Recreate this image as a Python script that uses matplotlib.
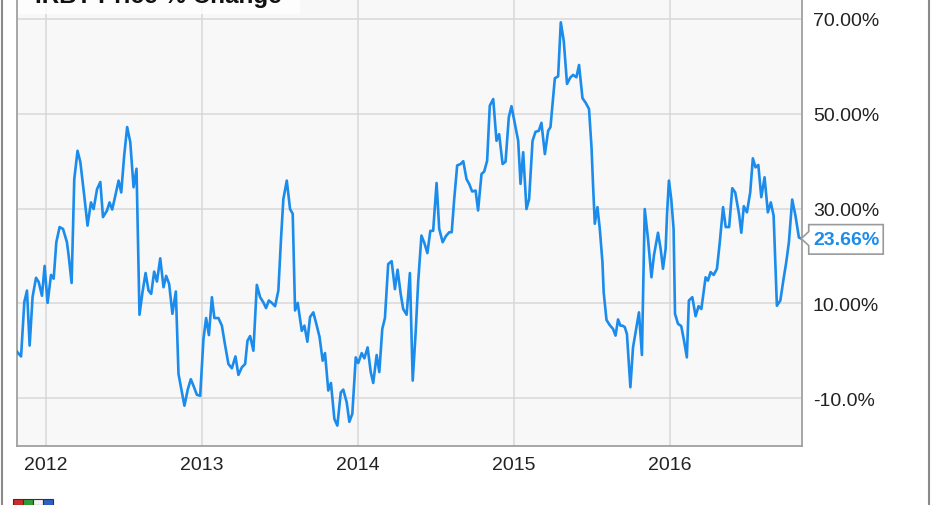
import matplotlib
matplotlib.use("Agg")
import matplotlib.pyplot as plt
from matplotlib.patches import Polygon, Rectangle
from matplotlib.lines import Line2D
from matplotlib.transforms import Affine2D

# --------------------------
# Data: IRBT price % change (x in decimal years)
# --------------------------
dates = [
    2011.814, 2011.840, 2011.861, 2011.878, 2011.895, 2011.914, 2011.936, 2011.953, 2011.974, 2011.991,
    2012.010, 2012.032, 2012.049, 2012.066, 2012.087, 2012.109, 2012.134, 2012.145, 2012.164, 2012.181,
    2012.202, 2012.220, 2012.245, 2012.266, 2012.288, 2012.305, 2012.327, 2012.348, 2012.365, 2012.391,
    2012.407, 2012.424, 2012.444, 2012.465, 2012.482, 2012.501, 2012.520, 2012.540, 2012.561, 2012.580,
    2012.599, 2012.618, 2012.638, 2012.657, 2012.674, 2012.693, 2012.711, 2012.732, 2012.753, 2012.770,
    2012.789, 2012.810, 2012.832, 2012.849, 2012.871, 2012.887, 2012.909, 2012.928, 2012.945, 2012.967,
    2012.988, 2013.009, 2013.026, 2013.044, 2013.063, 2013.079, 2013.105, 2013.127, 2013.148, 2013.169,
    2013.191, 2013.214, 2013.233, 2013.255, 2013.276, 2013.291, 2013.308, 2013.329, 2013.351, 2013.372,
    2013.393, 2013.410, 2013.428, 2013.447, 2013.468, 2013.489, 2013.506, 2013.521, 2013.543, 2013.564,
    2013.581, 2013.596, 2013.613, 2013.639, 2013.656, 2013.675, 2013.692, 2013.713, 2013.732, 2013.753,
    2013.773, 2013.788, 2013.809, 2013.826, 2013.848, 2013.867, 2013.889, 2013.905, 2013.927, 2013.944,
    2013.963, 2013.985, 2014.001, 2014.023, 2014.040, 2014.061, 2014.081, 2014.097, 2014.119, 2014.136,
    2014.155, 2014.172, 2014.193, 2014.215, 2014.236, 2014.253, 2014.273, 2014.289, 2014.311, 2014.332,
    2014.350, 2014.369, 2014.385, 2014.406, 2014.425, 2014.444, 2014.463, 2014.481, 2014.503, 2014.520,
    2014.542, 2014.563, 2014.584, 2014.600, 2014.616, 2014.635, 2014.657, 2014.674, 2014.695, 2014.712,
    2014.731, 2014.753, 2014.769, 2014.791, 2014.808, 2014.827, 2014.844, 2014.866, 2014.887, 2014.904,
    2014.926, 2014.945, 2014.966, 2014.983, 2015.005, 2015.026, 2015.041, 2015.058, 2015.079, 2015.096,
    2015.118, 2015.137, 2015.158, 2015.175, 2015.197, 2015.218, 2015.233, 2015.261, 2015.282, 2015.299,
    2015.318, 2015.339, 2015.361, 2015.378, 2015.399, 2015.416, 2015.438, 2015.459, 2015.480, 2015.496,
    2015.506, 2015.517, 2015.534, 2015.549, 2015.566, 2015.574, 2015.592, 2015.613, 2015.634, 2015.650,
    2015.666, 2015.681, 2015.694, 2015.709, 2015.723, 2015.745, 2015.762, 2015.784, 2015.800, 2015.819,
    2015.837, 2015.858, 2015.880, 2015.896, 2015.922, 2015.939, 2015.954, 2015.971, 2015.980, 2015.992,
    2016.007, 2016.022, 2016.031, 2016.050, 2016.071, 2016.089, 2016.107, 2016.120, 2016.142, 2016.163,
    2016.182, 2016.200, 2016.227, 2016.242, 2016.259, 2016.279, 2016.300, 2016.318, 2016.339, 2016.356,
    2016.378, 2016.398, 2016.417, 2016.441, 2016.456, 2016.472, 2016.492, 2016.513, 2016.530, 2016.547,
    2016.565, 2016.584, 2016.605, 2016.626, 2016.645, 2016.663, 2016.684, 2016.706, 2016.727, 2016.744,
    2016.761, 2016.782, 2016.803, 2016.825, 2016.840,
]
pct_change = [
    -0.2, -1.2, 10.3, 12.7, 1.1, 11.4, 15.4, 14.5, 11.6, 17.9,
    10.1, 16.0, 15.2, 22.9, 26.1, 25.7, 22.9, 20.1, 14.3, 36.2,
    42.2, 39.8, 32.7, 26.4, 31.3, 29.9, 34.1, 35.6, 28.2, 29.6,
    31.3, 29.8, 32.7, 35.9, 33.4, 41.2, 47.2, 44.0, 34.5, 38.4,
    7.6, 12.3, 16.4, 12.7, 12.0, 16.7, 14.6, 19.5, 13.4, 15.8,
    14.1, 7.8, 12.5, -4.9, -8.8, -11.6, -8.1, -6.0, -7.4, -9.3,
    -9.5, 2.5, 6.9, 3.3, 11.3, 6.9, 6.9, 5.3, 1.1, -2.8,
    -3.7, -1.2, -5.1, -3.5, -2.8, 2.1, 3.1, 0.0, 13.9, 11.3,
    10.2, 9.0, 10.6, 10.1, 9.4, 12.7, 23.6, 32.0, 35.9, 29.9,
    28.9, 8.5, 10.1, 4.2, 5.3, 1.9, 7.1, 8.1, 5.7, 2.9,
    -2.1, -0.5, -8.4, -6.8, -14.4, -15.8, -8.8, -8.2, -10.9, -15.0,
    -13.3, -1.4, -2.6, -0.5, -1.6, 0.7, -4.5, -6.8, -0.9, -4.5,
    4.6, 6.9, 18.3, 18.9, 13.0, 17.1, 12.0, 8.8, 7.6, 16.4,
    -6.3, 3.9, 14.5, 24.3, 22.7, 20.6, 25.3, 25.3, 35.4, 25.7,
    22.9, 24.2, 25.0, 25.0, 32.0, 39.1, 39.4, 40.0, 36.2, 35.2,
    33.6, 33.8, 29.6, 37.3, 37.8, 40.1, 51.7, 53.1, 44.3, 45.7,
    39.4, 39.9, 49.3, 51.6, 47.9, 44.3, 35.2, 41.9, 29.9, 32.0,
    44.3, 46.2, 46.4, 48.1, 41.5, 46.4, 47.2, 57.5, 57.9, 69.3,
    65.4, 56.3, 57.7, 58.2, 57.7, 60.3, 53.3, 52.3, 51.0, 42.9,
    34.8, 26.8, 30.3, 25.7, 18.7, 12.3, 6.5, 5.4, 4.6, 3.2,
    6.6, 5.3, 5.3, 5.0, 3.5, -7.7, 0.7, 5.0, 8.1, -0.9,
    29.9, 23.6, 15.5, 20.1, 24.9, 21.5, 17.3, 21.5, 28.9, 35.9,
    32.0, 25.7, 7.8, 5.7, 5.2, 2.1, -1.4, 10.6, 11.3, 7.3,
    9.4, 8.8, 15.5, 14.8, 16.6, 16.0, 17.3, 22.9, 30.3, 26.1,
    26.1, 34.3, 33.4, 28.9, 24.9, 30.5, 29.2, 33.4, 40.6, 38.7,
    39.2, 32.4, 36.6, 29.2, 31.3, 28.5, 9.5, 10.6, 15.2, 18.7,
    22.9, 31.9, 28.5, 23.9, 23.66,
]

year_ticks = [2012, 2013, 2014, 2015, 2016]
year_labels = ["2012", "2013", "2014", "2015", "2016"]
y_ticks = [70, 50, 30, 10, -10]
y_labels = ["70.00%", "50.00%", "30.00%", "10.00%", "-10.0%"]
title = "IRBT Price % Change"

line_color = "#1b8ceb"
W, H = 931, 506

plt.rcParams["font.family"] = ["Liberation Sans", "DejaVu Sans"]

fig = plt.figure(figsize=(W / 100, H / 100), dpi=100)
fig.patch.set_facecolor("white")
ax = fig.add_axes([17 / W, 59 / H, (801.7 - 17) / W, 447 / H])
ax.set_facecolor("#f8f8f8")

ax.plot(dates, pct_change, color=line_color, lw=1.9, zorder=3, solid_joinstyle="round")

ax.set_xlim(2011.814, 2016.843)
ax.set_ylim(-20.1, 74.22)

ax.set_xticks(year_ticks)
ax.set_xticklabels(year_labels, fontsize=14, color="#222222")
ax.set_yticks(y_ticks)
ax.set_yticklabels(y_labels, fontsize=14, color="#222222")
ax.yaxis.tick_right()
ax.tick_params(axis="both", length=0)
ax.tick_params(axis="y", pad=8)
ax.tick_params(axis="x", pad=7)
ax.grid(True, color="#dadada", lw=1.2, zorder=0)
ax.set_axisbelow(True)

for side in ["left", "right", "bottom"]:
    ax.spines[side].set_color("#a0a0a0")
    ax.spines[side].set_linewidth(1.3)
ax.spines["top"].set_visible(False)

# title box (cropped at top of image, as in the source)
ax.add_patch(Rectangle((0, 1 - 15 / 447), 283 / 784.7, 15 / 447, transform=ax.transAxes,
                       facecolor="white", edgecolor="none", alpha=0.8, zorder=2))
fig.text(35 / W, 1 - 3 / H, title, fontsize=17.5, fontweight="bold", color="#111111",
         ha="left", va="baseline")

# last value callout
fig.canvas.draw()
px, py = ax.transData.transform((dates[-1], pct_change[-1]))
offset = Affine2D().translate(px, py)
callout = Polygon([(0, 0), (7.5, 7), (7.5, 14), (82, 14), (82, -15.5), (7.5, -15.5), (7.5, -7)],
                  closed=True, facecolor="white", edgecolor="#9a9a9a", lw=1.2,
                  transform=offset, clip_on=False, zorder=5)
fig.add_artist(callout)
fig.text((px + 45) / W, (py - 1) / H, f"{pct_change[-1]:.2f}%", fontsize=14, fontweight="bold",
         color=line_color, ha="center", va="center", zorder=6)

# outer frame lines
fig.add_artist(Line2D([1.5 / W, 1.5 / W], [0, 1], color="#8a8a8a", lw=1.5))
fig.add_artist(Line2D([929 / W, 929 / W], [0, 1], color="#8a8a8a", lw=1.5))

# small logo at the bottom-left, cut off by the image edge
logo_colors = ["#cc2b2b", "#2f9e3a", "#f2f2f2", "#2d5fc4"]
for i, c in enumerate(logo_colors):
    fig.add_artist(Rectangle(((13 + i * 10) / W, 0), 10 / W, 6 / H, facecolor=c,
                             edgecolor="#333333", lw=0.8))

fig.savefig("out.png", dpi=100)
